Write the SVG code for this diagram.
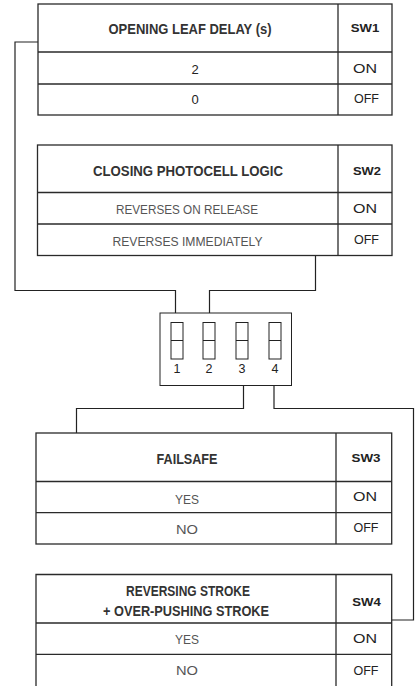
<svg xmlns="http://www.w3.org/2000/svg" width="418" height="686" viewBox="0 0 418 686">
<style>
.tb{fill:none;stroke:#2a2a2a;stroke-width:1.3}
.ln{fill:none;stroke:#222;stroke-width:1.2}
.h{font-family:"Liberation Sans",Arial,sans-serif;font-weight:bold;font-size:14px;fill:#333;text-anchor:middle}
.sw{font-family:"Liberation Sans",Arial,sans-serif;font-weight:bold;font-size:11.5px;fill:#222;text-anchor:middle}
.b{font-family:"Liberation Sans",Arial,sans-serif;font-size:13.5px;fill:#555;text-anchor:middle}
.d{font-family:"Liberation Sans",Arial,sans-serif;font-size:13px;fill:#222;text-anchor:middle}
.o{font-family:"Liberation Sans",Arial,sans-serif;font-size:12px;fill:#222;text-anchor:middle}
.n{font-family:"Liberation Sans",Arial,sans-serif;font-size:12.5px;fill:#222;text-anchor:middle}
.dip{fill:#fff;stroke:#222;stroke-width:1}
</style>
<rect width="418" height="686" fill="#fff"/>
<g id="connectors">
<polyline class="ln" points="38,42 15,42 15,290.5 175.5,290.5 175.5,313"/>
<polyline class="ln" points="315.5,255.5 315.5,290.5 209.5,290.5 209.5,313"/>
<polyline class="ln" points="243.5,385 243.5,408.5 76.5,408.5 76.5,433"/>
<polyline class="ln" points="274,385 274,408.5 413.5,408.5 413.5,620 392,620"/>
</g>
<g id="sw1">
<rect class="tb" x="38" y="4" width="354" height="111"/>
<line class="tb" x1="338" y1="4" x2="338" y2="115"/>
<line class="tb" x1="38" y1="52" x2="392" y2="52"/>
<line class="tb" x1="38" y1="84" x2="392" y2="84"/>
<text class="h" x="190" y="34.3" textLength="163" lengthAdjust="spacingAndGlyphs">OPENING LEAF DELAY (s)</text>
<text class="sw" x="365" y="31.5" textLength="28.5" lengthAdjust="spacingAndGlyphs">SW1</text>
<text class="d" x="195" y="74.3">2</text>
<text class="o" x="365" y="72.5" textLength="24" lengthAdjust="spacingAndGlyphs">ON</text>
<text class="d" x="195" y="104.3">0</text>
<text class="o" x="366.5" y="102.5" textLength="25" lengthAdjust="spacingAndGlyphs">OFF</text>
</g>
<g id="sw2">
<rect class="tb" x="37.5" y="145" width="354.5" height="110.5"/>
<line class="tb" x1="338" y1="145" x2="338" y2="255.5"/>
<line class="tb" x1="37.5" y1="192.5" x2="392" y2="192.5"/>
<line class="tb" x1="37.5" y1="224" x2="392" y2="224"/>
<text class="h" x="188" y="176" textLength="190" lengthAdjust="spacingAndGlyphs">CLOSING PHOTOCELL LOGIC</text>
<text class="sw" x="367" y="174.5" textLength="28" lengthAdjust="spacingAndGlyphs">SW2</text>
<text class="b" x="187" y="214.3" textLength="142" lengthAdjust="spacingAndGlyphs">REVERSES ON RELEASE</text>
<text class="o" x="365" y="213.3" textLength="24" lengthAdjust="spacingAndGlyphs">ON</text>
<text class="b" x="187.5" y="245.5" textLength="150" lengthAdjust="spacingAndGlyphs">REVERSES IMMEDIATELY</text>
<text class="o" x="366.5" y="244.3" textLength="25" lengthAdjust="spacingAndGlyphs">OFF</text>
</g>
<g id="dip">
<rect class="dip" x="160" y="313" width="131.5" height="72.5"/>
<g fill="none" stroke="#222" stroke-width="1">
<rect x="171" y="322.5" width="12" height="36.5"/><line x1="171" y1="340.5" x2="183" y2="340.5"/>
<rect x="203" y="322.5" width="12" height="36.5"/><line x1="203" y1="340.5" x2="215" y2="340.5"/>
<rect x="236" y="322.5" width="12" height="36.5"/><line x1="236" y1="340.5" x2="248" y2="340.5"/>
<rect x="269" y="322.5" width="12" height="36.5"/><line x1="269" y1="340.5" x2="281" y2="340.5"/>
</g>
<text class="n" x="177" y="372.7">1</text>
<text class="n" x="209" y="372.7">2</text>
<text class="n" x="242" y="372.7">3</text>
<text class="n" x="275" y="372.7">4</text>
</g>
<g id="sw3">
<rect class="tb" x="36" y="433" width="355.7" height="111"/>
<line class="tb" x1="336" y1="433" x2="336" y2="544"/>
<line class="tb" x1="36" y1="481.5" x2="391.7" y2="481.5"/>
<line class="tb" x1="36" y1="512.7" x2="391.7" y2="512.7"/>
<text class="h" x="187" y="464" textLength="61" lengthAdjust="spacingAndGlyphs">FAILSAFE</text>
<text class="sw" x="366" y="462" textLength="29" lengthAdjust="spacingAndGlyphs">SW3</text>
<text class="b" x="187" y="504" textLength="24" lengthAdjust="spacingAndGlyphs">YES</text>
<text class="o" x="365" y="500.5" textLength="24" lengthAdjust="spacingAndGlyphs">ON</text>
<text class="b" x="187" y="534" textLength="22" lengthAdjust="spacingAndGlyphs">NO</text>
<text class="o" x="366" y="531.5" textLength="25" lengthAdjust="spacingAndGlyphs">OFF</text>
</g>
<g id="sw4">
<polyline class="tb" points="36,690 36,574.5 391.7,574.5 391.7,690"/>
<line class="tb" x1="336" y1="574.5" x2="336" y2="690"/>
<line class="tb" x1="36" y1="623" x2="391.7" y2="623"/>
<line class="tb" x1="36" y1="654.3" x2="391.7" y2="654.3"/>
<text class="h" x="188" y="596" textLength="124" lengthAdjust="spacingAndGlyphs">REVERSING STROKE</text>
<text class="h" x="186" y="616" textLength="166" lengthAdjust="spacingAndGlyphs">+ OVER-PUSHING STROKE</text>
<text class="sw" x="366.5" y="605.5" textLength="28.5" lengthAdjust="spacingAndGlyphs">SW4</text>
<text class="b" x="187" y="644" textLength="24" lengthAdjust="spacingAndGlyphs">YES</text>
<text class="o" x="365" y="642.5" textLength="24" lengthAdjust="spacingAndGlyphs">ON</text>
<text class="b" x="187" y="674.5" textLength="22" lengthAdjust="spacingAndGlyphs">NO</text>
<text class="o" x="366" y="674.5" textLength="25" lengthAdjust="spacingAndGlyphs">OFF</text>
</g>
</svg>
